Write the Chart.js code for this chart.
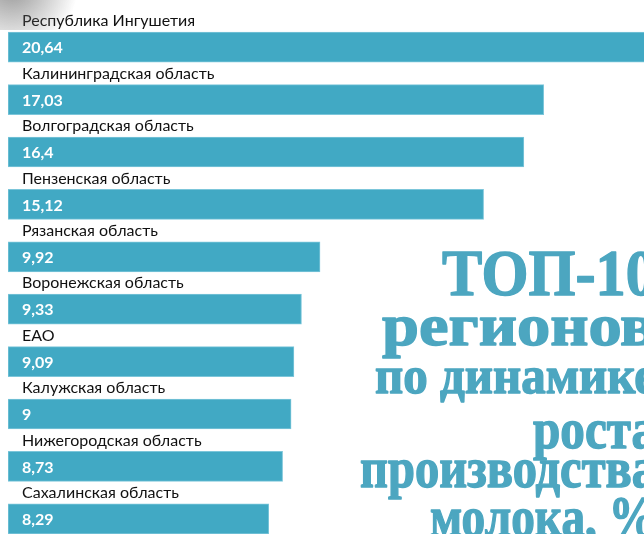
<!DOCTYPE html>
<html lang="ru">
<head>
<meta charset="utf-8">
<title>ТОП-10 регионов по динамике роста производства молока</title>
<script src="https://cdn.jsdelivr.net/npm/chart.js@4/dist/chart.umd.min.js"></script>
<style>
  html, body { margin: 0; padding: 0; background: #fff; overflow: hidden; }
  #wrap { position: relative; width: 644px; height: 545px; }
</style>
</head>
<body>
<div id="wrap"><canvas id="milkChart"></canvas></div>
<script>
/* -------------------- DATA -------------------- */
const regions = [
  "Республика Ингушетия",
  "Калининградская область",
  "Волгоградская область",
  "Пензенская область",
  "Рязанская область",
  "Воронежская область",
  "ЕАО",
  "Калужская область",
  "Нижегородская область",
  "Сахалинская область"
];
const growth = [20.64, 17.03, 16.4, 15.12, 9.92, 9.33, 9.09, 9, 8.73, 8.29];
const titleLines = ["ТОП-10", "регионов", "по динамике", "роста", "производства", "молока, %"];

/* -------------------- STYLE -------------------- */
const barColor = "#41a9c4";
const titleColor = "#4ca6c0";
// left edge, baseline, font size for each title line (right edge is shared)
const titleLayout = [
  [442, 295, 65],
  [382, 345, 60],
  [375, 393, 52],
  [533, 448, 57],
  [360, 487, 58],
  [430, 536, 58]
];
const titleRight = 656;

/* -------------------- PLUGINS -------------------- */
const barLabels = {
  id: "barLabels",
  afterDatasetsDraw(chart) {
    const ctx = chart.ctx;
    const yScale = chart.scales.y;
    ctx.save();
    ctx.textBaseline = "middle";
    ctx.textAlign = "left";
    regions.forEach((name, i) => {
      const y = yScale.getPixelForValue(i);
      ctx.fillStyle = "#111";
      ctx.font = "16px Lato";
      ctx.fillText(name, 22, y - 26);
      ctx.fillStyle = "#fff";
      ctx.font = "bold 16px Lato";
      ctx.fillText(String(growth[i]).replace(".", ","), 22, y + 1);
    });
    ctx.restore();
  }
};

const sideTitle = {
  id: "sideTitle",
  afterDraw(chart) {
    const ctx = chart.ctx;
    ctx.save();
    ctx.fillStyle = titleColor;
    ctx.strokeStyle = titleColor;
    ctx.lineWidth = 1.4;
    ctx.lineJoin = "round";
    ctx.textBaseline = "alphabetic";
    titleLines.forEach((line, i) => {
      const [left, base, size] = titleLayout[i];
      ctx.font = "bold " + size + "px 'Liberation Serif'";
      const w = ctx.measureText(line).width;
      const sx = (titleRight - left) / w;
      ctx.save();
      ctx.translate(left, base);
      ctx.scale(sx, 1);
      ctx.fillText(line, 0, 0);
      ctx.strokeText(line, 0, 0);
      ctx.restore();
    });
    // soft shadow in the top-left corner
    const g = ctx.createRadialGradient(12, -14, 0, 12, -14, 66);
    g.addColorStop(0, "rgba(105,105,105,0.7)");
    g.addColorStop(1, "rgba(105,105,105,0)");
    ctx.fillStyle = g;
    ctx.fillRect(0, 0, 90, 30);
    ctx.restore();
  }
};

/* -------------------- CHART -------------------- */
new Chart(document.getElementById("milkChart"), {
  type: "bar",
  data: {
    labels: regions,
    datasets: [{
      data: growth,
      backgroundColor: barColor,
      borderColor: "#7cc6da",
      borderWidth: 1,
      borderSkipped: false,
      barThickness: 30
    }]
  },
  options: {
    indexAxis: "y",
    responsive: true,
    maintainAspectRatio: false,
    animation: false,
    layout: { padding: { left: 8, top: 21, right: 0, bottom: 0 } },
    plugins: {
      legend: { display: false },
      tooltip: { enabled: false }
    },
    scales: {
      x: { display: false, min: 0, max: 20.22 },
      y: { display: false }
    }
  },
  plugins: [barLabels, sideTitle]
});
</script>
</body>
</html>
